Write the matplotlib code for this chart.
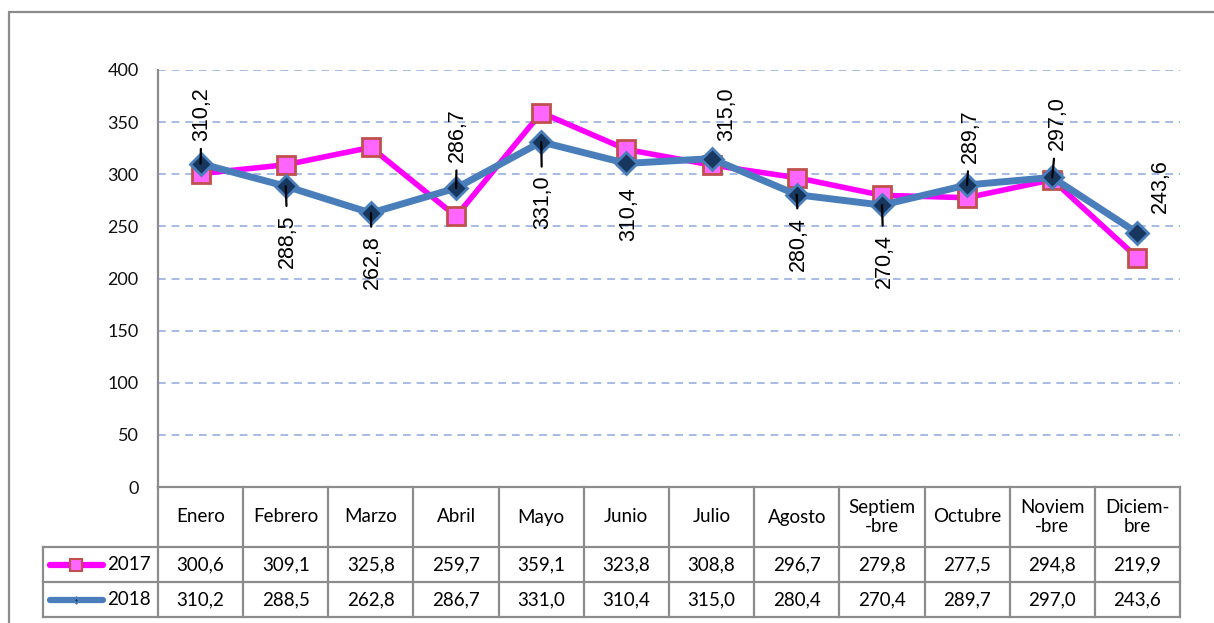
import matplotlib
matplotlib.use("Agg")
import matplotlib.pyplot as plt
from matplotlib.lines import Line2D
from matplotlib.patches import Rectangle

plt.rcParams['font.family'] = ['Lato', 'DejaVu Sans']

months = ["Enero", "Febrero", "Marzo", "Abril", "Mayo", "Junio", "Julio",
          "Agosto", "Septiem\n-bre", "Octubre", "Noviem\n-bre", "Diciem-\nbre"]
series_names = ["2017", "2018"]
v2017 = [300.6, 309.1, 325.8, 259.7, 359.1, 323.8, 308.8, 296.7, 279.8, 277.5, 294.8, 219.9]
v2018 = [310.2, 288.5, 262.8, 286.7, 331.0, 310.4, 315.0, 280.4, 270.4, 289.7, 297.0, 243.6]
yticks = [0, 50, 100, 150, 200, 250, 300, 350, 400]

# label placement for 2018 data labels (pixel offsets dx, dy; leader flag)
lab_pos = [(1, 23, True), (2, -28, True), (1, -22, True), (1, 26, True),
           (1, -33, True), (2, -24, False), (15, 18, False), (2, -22, True),
           (2, -29, True), (3, 22, True), (5, 27, True), (23, 20, False)]

W, H = 1214, 623
fig = plt.figure(figsize=(W / 100, H / 100), dpi=100)

# outer frame
fig.patches.append(Rectangle((9 / W, -0.1), 1.2, 1 - 12 / H + 0.1, transform=fig.transFigure,
                             fill=False, edgecolor='#8c8c8c', linewidth=1.6))

L, R, T, B = 158, 1180, 70, 487
ax = fig.add_axes([L / W, 1 - B / H, (R - L) / W, (B - T) / H])
n = len(months)
ax.set_xlim(-0.5, n - 0.5)
ax.set_ylim(0, 400)
for s in ['top', 'right']:
    ax.spines[s].set_visible(False)
for s in ['left', 'bottom']:
    ax.spines[s].set_color('#8c8c8c')
    ax.spines[s].set_linewidth(1.6)
ax.set_xticks([])
ax.set_yticks(yticks)
ax.tick_params(axis='y', length=0, pad=14, labelsize=13, labelcolor='#111111')
for yv in yticks[1:]:
    ax.axhline(yv, color='#a7bce4', lw=1.4, ls=(0, (4, 3)), zorder=0)

x = list(range(n))
ax.plot(x, v2017, color='#ff00ff', lw=4, marker='s', markersize=13,
        markerfacecolor='#ff66ff', markeredgecolor='#c0504d', markeredgewidth=2, zorder=3)
ax.plot(x, v2018, color='#4a7ebb', lw=5, marker='D', markersize=11,
        markerfacecolor='#17375e', markeredgecolor='#4a7ebb', markeredgewidth=2, zorder=4)

for i, v in enumerate(v2018):
    dx, dy, leader = lab_pos[i]
    txt = f"{v:.1f}".replace('.', ',')
    va = 'bottom' if dy > 0 else 'top'
    ax.annotate(txt, xy=(i, v), xytext=(dx * 0.72, dy * 0.72), textcoords='offset points',
                rotation=90, ha='center', va=va, fontsize=15.5, color='black', zorder=6,
                family=['Liberation Sans', 'DejaVu Sans'],
                arrowprops=dict(arrowstyle='-', color='black', lw=1.6, shrinkA=4, shrinkB=0)
                if leader else None)

# data table below the axes
ah = B - T
def ya(py):
    return -(py - B) / ah

tr = ax.get_xaxis_transform()
grey = '#8c8c8c'
y_hdr_bot = ya(547)
y_r1_bot = ya(582)
y_r2_bot = ya(617)
kw = dict(color=grey, lw=1.6, transform=tr, clip_on=False)
ux = (R - L) / n
def xd(px):
    return -0.5 + (px - L) / ux
xl_leg = xd(43)
# horizontal lines
ax.add_line(Line2D([xl_leg, n - 0.5], [y_hdr_bot, y_hdr_bot], **kw))
ax.add_line(Line2D([xl_leg, n - 0.5], [y_r1_bot, y_r1_bot], **kw))
ax.add_line(Line2D([xl_leg, n - 0.5], [y_r2_bot, y_r2_bot], **kw))
# vertical lines
for k in range(n + 1):
    ax.add_line(Line2D([k - 0.5, k - 0.5], [0, y_r2_bot], **kw))
ax.add_line(Line2D([xl_leg, xl_leg], [y_hdr_bot, y_r2_bot], **kw))

fs = 13.5
for i, m in enumerate(months):
    ax.text(i, (0 + y_hdr_bot) / 2, m, transform=tr, ha='center', va='center',
            fontsize=fs, linespacing=1.1, clip_on=False)
    ax.text(i, (y_hdr_bot + y_r1_bot) / 2, f"{v2017[i]:.1f}".replace('.', ','), transform=tr,
            ha='center', va='center', fontsize=fs, clip_on=False)
    ax.text(i, (y_r1_bot + y_r2_bot) / 2, f"{v2018[i]:.1f}".replace('.', ','), transform=tr,
            ha='center', va='center', fontsize=fs, clip_on=False)

# legend keys in table
for yy, name, col, mk, mfc, mec, ms in [
        ((y_hdr_bot + y_r1_bot) / 2, series_names[0], '#ff00ff', 's', '#ff66ff', '#c0504d', 9),
        ((y_r1_bot + y_r2_bot) / 2, series_names[1], '#4a7ebb', 'D', '#17375e', '#4a7ebb', 3)]:
    ax.add_line(Line2D([xd(50), xd(103)], [yy, yy], color=col, lw=4.5, transform=tr,
                       clip_on=False, solid_capstyle='round'))
    ax.add_line(Line2D([xd(76)], [yy], marker=mk, markersize=ms, markerfacecolor=mfc,
                       markeredgecolor=mec, markeredgewidth=1.5, transform=tr, clip_on=False))
    ax.text(xd(151), yy, name, transform=tr, ha='right', va='center', fontsize=fs,
            clip_on=False)

fig.savefig("out.png", dpi=100)
